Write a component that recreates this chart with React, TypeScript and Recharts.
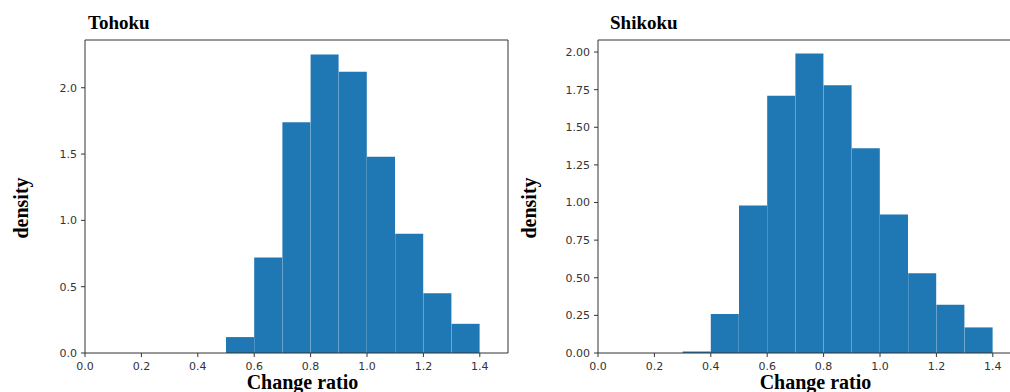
import React from 'react';
import { ComposedChart, Bar, XAxis, YAxis, Label } from 'recharts';

// histogram bins, width 0.1, starting at 0.0
const binStarts = [0.0, 0.1, 0.2, 0.3, 0.4, 0.5, 0.6, 0.7, 0.8, 0.9, 1.0, 1.1, 1.2, 1.3, 1.4];
const tohokuDensity = [0, 0, 0, 0, 0, 0.12, 0.72, 1.74, 2.25, 2.12, 1.48, 0.9, 0.45, 0.22, 0];
const shikokuDensity = [0, 0, 0, 0.01, 0.26, 0.98, 1.71, 1.99, 1.78, 1.36, 0.92, 0.53, 0.32, 0.17, 0];

const xTicks = [0, 0.2, 0.4, 0.6, 0.8, 1.0, 1.2, 1.4];
const tohokuYTicks = [0, 0.5, 1.0, 1.5, 2.0];
const shikokuYTicks = [0, 0.25, 0.5, 0.75, 1.0, 1.25, 1.5, 1.75, 2.0];

const serif = '"Liberation Serif", "Times New Roman", serif';
const tickStyle = { fontFamily: '"DejaVu Sans", sans-serif', fontSize: 11, fill: '#333' };
const axisColor = '#333';

type HistProps = {
  title: string;
  values: number[];
  yMax: number;
  yTicks: number[];
  digits: number;
  left: number;
  width: number;
  yAxisWidth: number;
  rightMargin: number;
  titleDx: number;
  ylabelX: number;
};

function Hist(p: HistProps) {
  const rows = binStarts.map((s, i) => ({ bin: s.toFixed(1), start: s, density: p.values[i] }));

  return (
    <div style={{ position: 'absolute', left: p.left, top: 0 }}>
      <ComposedChart
        width={p.width}
        height={392}
        data={rows}
        margin={{ top: 39, right: p.rightMargin - 1, bottom: 0, left: 0 }}
        barCategoryGap={0}
        barGap={0}
      >
        <XAxis
          xAxisId="num"
          dataKey="start"
          type="number"
          domain={[0, 1.5]}
          allowDataOverflow
          ticks={xTicks}
          tickFormatter={(v: number) => v.toFixed(1)}
          height={39}
          tickSize={4}
          tickMargin={5}
          tick={tickStyle}
          stroke={axisColor}
        >
          <Label
            content={(lp: any) => {
              const vb = lp.viewBox || { x: 0, y: 0, width: 0 };
              return (
                <text
                  x={vb.x + vb.width / 2 + 6}
                  y={vb.y + 36}
                  textAnchor="middle"
                  fontFamily={serif}
                  fontWeight="bold"
                  fontSize={20}
                  fill="#000"
                >
                  Change ratio
                </text>
              );
            }}
          />
        </XAxis>
        <XAxis xAxisId="cat" dataKey="bin" type="category" hide height={0} />
        <XAxis
          xAxisId="top"
          dataKey="start"
          orientation="top"
          type="number"
          domain={[0, 1.5]}
          allowDataOverflow
          height={1}
          tick={false}
          tickLine={false}
          stroke={axisColor}
        >
          <Label
            content={(lp: any) => {
              const vb = lp.viewBox || { x: 0, y: 0 };
              return (
                <text
                  x={vb.x + p.titleDx}
                  y={vb.y + vb.height - 11}
                  fontFamily={serif}
                  fontWeight="bold"
                  fontSize={19}
                  fill="#000"
                >
                  {p.title}
                </text>
              );
            }}
          />
        </XAxis>
        <YAxis
          yAxisId="left"
          type="number"
          domain={[0, p.yMax]}
          allowDataOverflow
          ticks={p.yTicks}
          tickFormatter={(v: number) => v.toFixed(p.digits)}
          width={p.yAxisWidth}
          tickSize={4}
          tickMargin={4}
          tick={tickStyle}
          stroke={axisColor}
        >
          <Label
            content={(lp: any) => {
              const vb = lp.viewBox || { x: 0, y: 0, height: 0 };
              const cx = vb.x + p.ylabelX;
              const cy = vb.y + vb.height / 2 + 11.5;
              return (
                <text
                  x={cx}
                  y={cy}
                  transform={`rotate(-90, ${cx}, ${cy})`}
                  textAnchor="middle"
                  fontFamily={serif}
                  fontWeight="bold"
                  fontSize={20}
                  fill="#000"
                >
                  density
                </text>
              );
            }}
          />
        </YAxis>
        <YAxis
          yAxisId="right"
          dataKey="density"
          orientation="right"
          type="number"
          domain={[0, p.yMax]}
          allowDataOverflow
          width={1}
          tick={false}
          tickLine={false}
          stroke={axisColor}
        />
        <Bar
          dataKey="density"
          xAxisId="cat"
          yAxisId="left"
          fill="#1f77b4"
          isAnimationActive={false}
        />
      </ComposedChart>
    </div>
  );
}

export default function App() {
  return (
    <div
      style={{
        position: 'absolute',
        left: 0,
        top: 0,
        width: 1010,
        height: 392,
        overflow: 'hidden',
        background: '#fff',
      }}
    >
      <Hist
        title="Tohoku"
        values={tohokuDensity}
        yMax={2.36}
        yTicks={tohokuYTicks}
        digits={1}
        left={0}
        width={515}
        yAxisWidth={85}
        rightMargin={7}
        titleDx={3}
        ylabelX={28}
      />
      <Hist
        title="Shikoku"
        values={shikokuDensity}
        yMax={2.08}
        yTicks={shikokuYTicks}
        digits={2}
        left={515}
        width={515}
        yAxisWidth={83}
        rightMargin={9}
        titleDx={12}
        ylabelX={21}
      />
    </div>
  );
}
